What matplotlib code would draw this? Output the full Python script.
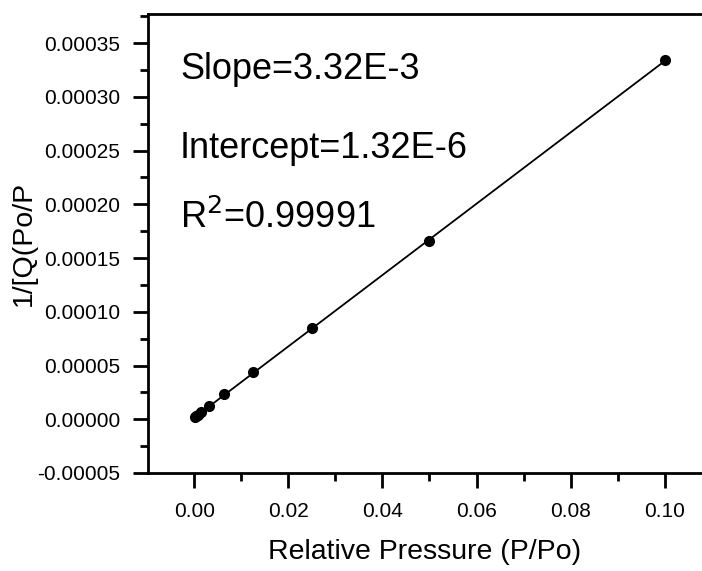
import numpy as np
import matplotlib
matplotlib.use("Agg")
import matplotlib.pyplot as plt
from matplotlib.ticker import MultipleLocator, FormatStrFormatter

plt.rcParams['font.family'] = ['Liberation Sans', 'DejaVu Sans']

# BET data
rel_pressure = [0.1, 0.05, 0.025, 0.0125, 0.00625, 0.003125, 0.0015625,
                0.00078, 0.00039, 0.0002]
inv_q = [0.000334, 0.000166, 0.000085, 0.000044, 0.0000235, 0.0000120,
         0.0000065, 0.0000040, 0.0000026, 0.0000020]

slope = 3.32e-3
intercept = 1.32e-6
r2 = "0.99991"

fig = plt.figure(figsize=(7.02, 5.71), dpi=100)
ax = fig.add_axes([148/702, 1-473/571, 1-148/702, (473-14)/571])

# fitted line over the data range
xfit = np.array([min(rel_pressure), max(rel_pressure)])
ax.plot(xfit, slope*xfit + intercept, color='black', lw=1.3)
ax.plot(rel_pressure, inv_q, 'o', color='black', ms=7)

ax.set_xlim(-0.0098, 0.1079)
ax.set_ylim(-0.00005, 0.000377)

ax.xaxis.set_major_locator(MultipleLocator(0.02))
ax.xaxis.set_minor_locator(MultipleLocator(0.01))
ax.yaxis.set_major_locator(MultipleLocator(0.00005))
ax.yaxis.set_minor_locator(MultipleLocator(0.000025))
ax.xaxis.set_major_formatter(FormatStrFormatter('%.2f'))
ax.yaxis.set_major_formatter(FormatStrFormatter('%.5f'))

ax.spines['right'].set_visible(False)
for s in ['left', 'top', 'bottom']:
    ax.spines[s].set_linewidth(2)
ax.tick_params(which='major', direction='out', length=11, width=2, labelsize=15, pad=9)
ax.tick_params(axis='x', which='major', pad=10)
ax.tick_params(which='minor', direction='out', length=6, width=2)
ax.tick_params(top=False, right=False)
ax.tick_params(which='minor', top=False, right=False)

ax.set_xlabel('Relative Pressure (P/Po)', fontsize=20.5, labelpad=13)
ax.set_ylabel('1/[Q(Po/P', fontsize=20.5, labelpad=0)

ax.text(-0.003, 0.000325, 'Slope=%.2fE-3' % (slope*1e3), fontsize=26, va='center')
ax.text(-0.003, 0.000252, 'Intercept=%.2fE-6' % (intercept*1e6), fontsize=26, va='center')
ax.text(-0.003, 0.000187, r'R$^2$=' + r2, fontsize=26, va='center')

fig.savefig('out.png', dpi=100)
